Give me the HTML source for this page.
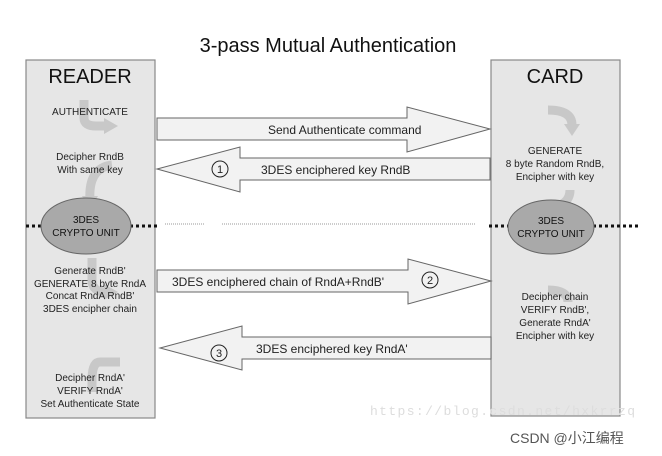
<!DOCTYPE html>
<html><head><meta charset="utf-8"><style>
body{margin:0;background:#fff;}
svg{display:block;font-family:"Liberation Sans",Arial,sans-serif;}
</style></head><body>
<svg width="662" height="456" viewBox="0 0 662 456">
<text x="328" y="52" font-size="20" text-anchor="middle" fill="#111">3-pass Mutual Authentication</text>
<rect x="26" y="60" width="129" height="358" fill="#e6e6e6" stroke="#888" stroke-width="1.2"/>
<rect x="491" y="60" width="129" height="356" fill="#e6e6e6" stroke="#888" stroke-width="1.2"/>
<g fill="none" stroke="#c8c8c8" stroke-width="9">
<path d="M84 100 L84 118 Q84 126 96 126 L106 126"/>
<path d="M112 165 Q88 168 90 200"/>
<path d="M92 258 L92 280 Q92 292 106 292"/>
<path d="M120 362 L100 362 Q92 362 92 380 L92 392"/>
<path d="M548 110 Q572 110 572 125"/>
<path d="M570 190 Q570 205 550 208"/>
<path d="M548 290 Q568 290 568 302"/>
</g>
<g fill="#c8c8c8">
<path d="M104 118 L118 126 L104 134Z"/>
<path d="M82 196 L98 196 L90 210Z"/>
<path d="M104 284 L118 292 L104 300Z"/>
<path d="M564 124 L580 124 L572 136Z"/>
</g>
<text x="90" y="75" font-size="20" text-anchor="middle" dy="8" fill="#111">READER</text>
<text x="555" y="75" font-size="20" text-anchor="middle" dy="8" fill="#111">CARD</text>
<g font-size="10" text-anchor="middle" fill="#222">
<text x="90" y="115">AUTHENTICATE</text>
<text x="90" y="160">Decipher RndB</text><text x="90" y="173">With same key</text>
<text x="90" y="274">Generate RndB'</text><text x="90" y="287">GENERATE 8 byte RndA</text>
<text x="90" y="299">Concat RndA RndB'</text><text x="90" y="312">3DES encipher chain</text>
<text x="90" y="381">Decipher RndA'</text><text x="90" y="394">VERIFY RndA'</text><text x="90" y="407">Set Authenticate State</text>
<text x="555" y="154">GENERATE</text><text x="555" y="167">8 byte Random RndB,</text><text x="555" y="180">Encipher with key</text>
<text x="555" y="300">Decipher chain</text><text x="555" y="313">VERIFY RndB',</text><text x="555" y="326">Generate RndA'</text><text x="555" y="339">Encipher with key</text>
</g>
<g stroke="#111" stroke-width="3" stroke-dasharray="3 3">
<line x1="26" y1="226" x2="44" y2="226"/><line x1="130" y1="226" x2="158" y2="226"/>
<line x1="489" y1="226" x2="510" y2="226"/><line x1="593" y1="226" x2="640" y2="226"/>
</g>
<g stroke="#999" stroke-width="1" stroke-dasharray="1 1">
<line x1="165" y1="224" x2="205" y2="224"/><line x1="222" y1="224" x2="476" y2="224"/>
</g>
<ellipse cx="86" cy="226" rx="45" ry="28" fill="#a9a9a9" stroke="#666"/>
<ellipse cx="551" cy="227" rx="43" ry="27" fill="#a9a9a9" stroke="#666"/>
<g font-size="10" text-anchor="middle" fill="#111">
<text x="86" y="223">3DES</text><text x="86" y="236">CRYPTO UNIT</text>
<text x="551" y="224">3DES</text><text x="551" y="237">CRYPTO UNIT</text>
</g>
<g fill="#f2f2f2" stroke="#666" stroke-width="1">
<path d="M157 118 L407 118 L407 107 L490 129 L407 152 L407 140 L157 140Z"/>
<path d="M490 158 L240 158 L240 147 L157 169 L240 192 L240 180 L490 180Z"/>
<path d="M157 270 L408 270 L408 259 L491 281 L408 304 L408 292 L157 292Z"/>
<path d="M491 337 L242 337 L242 326 L160 348 L242 370 L242 359 L491 359Z"/>
</g>
<g font-size="12" fill="#222">
<text x="268" y="134">Send Authenticate command</text>
<text x="261" y="174">3DES enciphered key RndB</text>
<text x="172" y="286">3DES enciphered chain of RndA+RndB'</text>
<text x="256" y="353">3DES enciphered key RndA'</text>
</g>
<g fill="none" stroke="#222" stroke-width="1"><circle cx="220" cy="169" r="8"/><circle cx="430" cy="280" r="8"/><circle cx="219" cy="353" r="8"/></g>
<g font-size="11" text-anchor="middle" fill="#222"><text x="220" y="173">1</text><text x="430" y="284">2</text><text x="219" y="357">3</text></g>
<text x="370" y="415" font-size="13" fill="#ddd" font-family="Liberation Mono,monospace" textLength="265">https://blog.csdn.net/hxkrrzq</text>
<text x="510" y="443" font-size="14" fill="#555" font-family="Liberation Sans,'Noto Sans CJK SC',sans-serif">CSDN @小江编程</text>
</svg>
</body></html>
